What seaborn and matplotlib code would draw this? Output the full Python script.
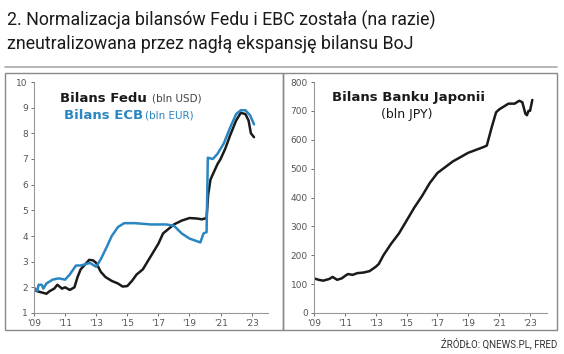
import numpy as np
import seaborn as sns
import matplotlib.pyplot as plt
from matplotlib.patches import Rectangle
from matplotlib.lines import Line2D

# Fed balance sheet (trillion USD), decimal years
fed_t = [2009.0, 2009.2, 2009.5, 2009.8, 2010.0, 2010.3, 2010.5, 2010.8, 2011.0, 2011.3,
         2011.6, 2011.8, 2012.0, 2012.3, 2012.55, 2012.8, 2013.0, 2013.3, 2013.6, 2014.0,
         2014.4, 2014.7, 2015.0, 2015.3, 2015.6, 2016.0, 2016.5, 2017.0, 2017.3, 2017.7,
         2018.0, 2018.5, 2019.0, 2019.5, 2019.8, 2020.1, 2020.2, 2020.35, 2020.5, 2020.8,
         2021.0, 2021.3, 2021.6, 2022.0, 2022.3, 2022.6, 2022.8, 2022.95, 2023.15]
fed_v = [1.9, 1.85, 1.8, 1.75, 1.85, 1.95, 2.1, 1.95, 2.0, 1.9,
         2.0, 2.4, 2.7, 2.9, 3.07, 3.05, 2.95, 2.6, 2.4, 2.25,
         2.15, 2.03, 2.05, 2.25, 2.5, 2.7, 3.2, 3.7, 4.1, 4.3,
         4.45, 4.6, 4.7, 4.68, 4.65, 4.7, 5.6, 6.2, 6.4, 6.8,
         7.0, 7.4, 7.9, 8.5, 8.8, 8.75, 8.5, 8.0, 7.85]

# ECB balance sheet (trillion EUR)
ecb_t = [2009.0, 2009.2, 2009.3, 2009.5, 2009.6, 2009.8, 2010.2, 2010.6, 2011.0, 2011.3,
         2011.7, 2012.0, 2012.3, 2012.6, 2013.0, 2013.3, 2013.7, 2014.0, 2014.4, 2014.8,
         2015.5, 2016.5, 2017.5, 2018.0, 2018.5, 2019.0, 2019.7, 2019.9, 2020.1, 2020.18,
         2020.5, 2020.8, 2021.2, 2021.6, 2022.0, 2022.3, 2022.6, 2022.9, 2023.15]
ecb_v = [2.0, 1.85, 2.1, 2.1, 1.95, 2.15, 2.3, 2.35, 2.3, 2.5,
         2.85, 2.85, 2.9, 2.95, 2.8, 3.1, 3.6, 4.0, 4.35, 4.5,
         4.5, 4.45, 4.45, 4.4, 4.1, 3.9, 3.75, 4.1, 4.15, 7.05,
         7.0, 7.2, 7.6, 8.2, 8.75, 8.9, 8.9, 8.7, 8.35]

# Bank of Japan balance sheet
boj_t = [2009.0, 2009.3, 2009.6, 2010.0, 2010.2, 2010.5, 2010.8, 2011.0, 2011.2, 2011.5,
         2011.8, 2012.2, 2012.6, 2013.0, 2013.2, 2013.5, 2014.0, 2014.5, 2015.0, 2015.5,
         2016.0, 2016.5, 2017.0, 2017.5, 2018.0, 2018.5, 2019.0, 2019.5, 2020.0, 2020.2,
         2020.5, 2020.8, 2021.0, 2021.3, 2021.6, 2022.0, 2022.3, 2022.5, 2022.7, 2022.8,
         2022.9, 2023.0, 2023.15]
boj_v = [120, 115, 112, 118, 125, 115, 120, 128, 135, 132,
         138, 140, 145, 160, 170, 200, 240, 275, 320, 365,
         405, 450, 485, 505, 525, 540, 555, 565, 575, 580,
         640, 695, 705, 715, 725, 725, 735, 730, 690, 685,
         700, 700, 738]

year_ticks = [2009, 2011, 2013, 2015, 2017, 2019, 2021, 2023]
year_labels = ["'09", "'11", "'13", "'15", "'17", "'19", "'21", "'23"]

sns.set_style("white")
plt.rcParams['font.family'] = ['DejaVu Sans']

W, H = 564, 354
fig = plt.figure(figsize=(W / 100, H / 100), dpi=100)

def px(x0, y0, x1, y1):
    return [x0 / W, 1 - y1 / H, (x1 - x0) / W, (y1 - y0) / H]

head = ['Roboto', 'DejaVu Sans']
fig.text(7 / W, 1 - 20 / H, "2. Normalizacja bilansów Fedu i EBC została (na razie)",
         fontsize=12.8, family=head, va='center', color='#1a1a1a')
fig.text(7 / W, 1 - 44 / H, "zneutralizowana przez nagłą ekspansję bilansu BoJ",
         fontsize=12.8, family=head, va='center', color='#1a1a1a')
fig.add_artist(Line2D([5 / W, 557 / W], [1 - 67 / H] * 2, color='#aaaaaa', lw=1.2))
for x0, x1 in [(5, 283), (283, 557)]:
    fig.add_artist(Rectangle((x0 / W, 1 - 330 / H), (x1 - x0) / W, 257 / H,
                             fill=False, ec='#888888', lw=1.0))
fig.text(557 / W, 1 - 343 / H, "ŹRÓDŁO: QNEWS.PL, FRED", fontsize=7, family=head,
         ha='right', va='center', color='#333333')

blue = '#2a86c0'

def style(ax, ylim, yticks):
    ax.set_xlim(2009, 2024.05)
    ax.set_ylim(*ylim)
    ax.set_yticks(yticks)
    ax.set_xticks(year_ticks)
    ax.set_xticklabels(year_labels)
    ax.set_xlabel('')
    ax.set_ylabel('')
    for s in ['top', 'right']:
        ax.spines[s].set_visible(False)
    for s in ['left', 'bottom']:
        ax.spines[s].set_color('#999999')
        ax.spines[s].set_linewidth(0.8)
    ax.tick_params(axis='both', labelsize=6.5, colors='#555555', length=2.5,
                   width=0.6, direction='out', pad=2, left=True, bottom=True)
    if ax.get_legend():
        ax.get_legend().remove()

ax1 = fig.add_axes(px(34, 82, 268, 313))
sns.lineplot(x=fed_t, y=fed_v, ax=ax1, color='#1a1a1a', lw=1.8)
sns.lineplot(x=ecb_t, y=ecb_v, ax=ax1, color=blue, lw=1.8)
style(ax1, (1, 10), range(1, 11))
ax1.text(0.11, 0.93, "Bilans Fedu", transform=ax1.transAxes, fontsize=9.5,
         fontweight='bold', color='#1a1a1a', va='center')
ax1.text(0.505, 0.93, "(bln USD)", transform=ax1.transAxes, fontsize=7.5,
         color='#444444', va='center')
ax1.text(0.128, 0.857, "Bilans ECB", transform=ax1.transAxes, fontsize=9.5,
         fontweight='bold', color=blue, va='center')
ax1.text(0.475, 0.857, "(bln EUR)", transform=ax1.transAxes, fontsize=7.5,
         color=blue, va='center')

ax2 = fig.add_axes(px(314, 82, 547, 313))
sns.lineplot(x=boj_t, y=boj_v, ax=ax2, color='#1a1a1a', lw=1.8)
style(ax2, (0, 800), range(0, 801, 100))
ax2.set_xlim(2009, 2024.1)
ax2.text(0.405, 0.935, "Bilans Banku Japonii", transform=ax2.transAxes, fontsize=9.5,
         fontweight='bold', color='#1a1a1a', va='center', ha='center')
ax2.text(0.40, 0.86, "(bln JPY)", transform=ax2.transAxes, fontsize=9,
         color='#1a1a1a', va='center', ha='center')

fig.savefig('out.png', dpi=100)
